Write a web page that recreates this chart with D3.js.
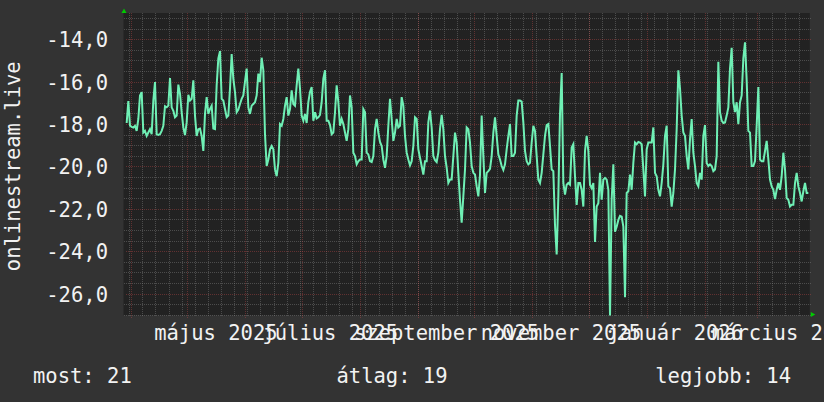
<!DOCTYPE html>
<html><head><meta charset="utf-8">
<script src="https://cdn.jsdelivr.net/npm/d3@7/dist/d3.min.js"></script>
<style>
html,body{margin:0;padding:0;background:#333333;}
svg{display:block;}
text{font-family:"DejaVu Sans Mono",monospace;font-size:20.5px;fill:#f2f2f2;}
</style>
</head><body>
<svg id="chart" width="824" height="402"></svg>
<script>
const seriesName = "onlinestream.live";
const timeDomain = ["2025-03-28T00:00", "2026-03-29T00:00"];
const firstSample = "2025-03-29T16:30";
const lastSample = "2026-03-28T06:00";
const yDomain = [-27.03, -12.76];
const yMajorTicks = [-26, -24, -22, -20, -18, -16, -14];
const yTickLabels = ["-26,0", "-24,0", "-22,0", "-20,0", "-18,0", "-16,0", "-14,0"];
const monthLabelDates = ["2025-05-01", "2025-07-01", "2025-09-01", "2025-11-01", "2026-01-01", "2026-03-01"];
const monthLabels = ["május 2025", "július 2025", "szeptember 2025", "november 2025", "január 2026", "március 2026"];
const legendLabels = ["most:", "átlag:", "legjobb:"];
const legendValues = [21, 19, 14];
const values = [
-17.95,-16.92,-18.08,-18.13,-18.16,-18.08,-18.32,-17.76,-16.65,-16.49,
-18.40,-18.32,-18.56,-18.40,-18.24,-18.48,-16.89,-16.02,-18.48,-18.51,
-18.48,-18.32,-18.08,-17.16,-17.21,-17.13,-15.83,-17.21,-17.37,-17.68,
-17.60,-16.14,-16.57,-17.44,-18.16,-18.52,-17.92,-16.62,-16.89,-16.81,
-15.94,-17.60,-18.56,-18.24,-18.21,-18.56,-19.27,-17.52,-16.73,-17.52,
-17.29,-17.13,-18.21,-18.24,-16.17,-14.90,-14.56,-16.81,-16.89,-17.29,
-17.68,-17.60,-16.33,-14.70,-15.86,
-16.49,-17.44,-17.32,-17.05,-16.81,-16.65,-16.00,-15.38,-17.21,-17.52,
-17.13,-17.05,-16.97,-16.65,-15.62,-16.02,-14.87,-15.46,-18.48,-19.98,
-19.67,-19.19,-19.03,-19.19,-20.14,-20.46,-19.83,-18.00,-18.08,-17.76,
-17.13,-16.73,-17.60,-17.29,-16.41,-17.05,-17.13,-16.17,-15.38,-16.33,
-17.60,-17.84,-17.52,-17.95,-16.97,-16.49,-16.25,-17.84,-17.44,-17.73,
-17.68,-17.57,-16.97,-15.86,-15.46,-17.84,-17.84,-18.05,-18.48,-18.40,
-17.44,-16.17,-16.97,-18.08,-17.76,-18.00,-18.40,-18.79,-18.24,
-16.65,-17.21,-19.35,-19.51,-19.90,-19.75,-19.67,-19.67,-17.29,-17.44,
-19.35,-19.43,-19.75,-19.79,-19.51,-18.24,-17.76,-18.40,-18.84,-19.03,
-19.67,-20.06,-19.51,-18.08,-16.81,-17.76,-18.79,-18.40,-17.76,-18.16,
-18.08,-16.73,-17.13,-18.56,-19.35,-19.67,-19.95,-19.75,-19.03,-17.68,
-17.76,-19.19,-19.59,-19.98,-20.38,-19.75,-19.75,-17.92,-17.37,-18.16,
-19.51,-19.70,-19.79,-19.35,-18.24,-17.56,-18.24,-19.51,-20.06,-20.78,
-20.62,-20.62,-19.51,-18.40,-18.87,-20.30,-21.57,-22.65,-21.41,
-20.14,-18.16,-18.24,-18.87,-19.98,-20.30,-20.38,-20.94,-21.41,-20.40,
-17.60,-19.50,-21.25,-20.30,-20.22,-20.11,-19.51,-18.40,-17.68,-18.56,
-19.43,-19.67,-19.98,-20.17,-19.90,-19.19,-18.56,-18.00,-19.51,-19.51,
-19.35,-17.60,-16.89,-16.89,-16.94,-17.92,-19.27,-19.75,-19.90,-19.83,
-18.87,-18.08,-18.32,-19.51,-20.62,-20.78,-20.30,-19.43,-18.56,-18.05,
-18.00,-19.03,-20.14,-20.22,-22.76,-24.15,-21.41,-17.52,-15.59,-20.78,
-21.33,-20.86,-20.78,-20.86,-19.11,-18.95,-20.46,-21.81,-20.78,
-20.78,-21.10,-21.89,-19.27,-18.56,-19.27,-20.86,-21.02,-20.78,-23.56,
-21.89,-21.73,-20.30,-21.57,-20.62,-20.54,-20.62,-21.10,-27.10,-21.57,
-19.90,-23.08,-22.84,-22.52,-22.33,-22.37,-22.84,-26.17,-21.25,-21.17,
-20.38,-21.10,-19.83,-18.87,-18.95,-18.84,-18.87,-18.95,-20.14,-21.41,
-19.19,-18.87,-18.87,-18.87,-18.16,-20.30,-20.46,-21.10,-21.41,-20.78,
-19.90,-18.56,-18.08,-20.94,-21.02,-21.89,-21.25,-20.14,-18.24,-15.46,
-16.33,-17.60,-18.40,-18.56,-19.51,-20.14,-18.71,-17.76,-19.35,
-19.98,-20.78,-20.94,-20.30,-20.62,-18.56,-18.05,-19.83,-19.98,-19.90,
-19.98,-20.22,-20.14,-19.51,-15.06,-17.44,-17.84,-17.95,-17.92,-17.60,
-17.21,-15.38,-14.40,-16.97,-17.44,-16.97,-18.00,-16.97,-16.65,-14.90,
-14.14,-15.94,-18.32,-18.40,-19.98,-19.98,-19.75,-18.08,-16.25,-19.67,
-19.75,-19.75,-19.27,-18.79,-19.67,-20.62,-20.94,-21.10,-21.54,-21.10,
-20.78,-21.10,-20.46,-19.35,-20.14,-21.49,-21.57,-21.89,-21.81,-21.81,
-20.78,-20.30,-20.94,-21.25,-21.65,-21.17,-20.78,-21.25,-21.25
];

const parseT = d3.timeParse("%Y-%m-%dT%H:%M");
const parseD = d3.timeParse("%Y-%m-%d");
const t0 = parseT(firstSample), t1 = parseT(lastSample);
const n = values.length;
const data = values.map((v, i) => ({ t: new Date(+t0 + i * (t1 - t0) / (n - 1)), v }));

const svg = d3.select("#chart");
const W = 824, H = 402;
const L = 123.5, R = 809.75, T = 13, B = 315.5;

const x = d3.scaleTime().domain(timeDomain.map(parseT)).range([L, R]);
const y = d3.scaleLinear().domain(yDomain).range([B, T]);

svg.append("rect").attr("width", W).attr("height", H).attr("fill", "#333333");
svg.append("rect").attr("x", L).attr("y", T).attr("width", R - L).attr("height", B - T).attr("fill", "#222222");

const minorCol = "rgba(128,128,128,0.45)";
const majorCol = "rgba(230,80,80,0.32)";

// minor horizontal grid (every 0.5)
const yMinor = d3.range(Math.ceil(yDomain[0] * 2) / 2, yDomain[1], 0.5).filter(v => !yMajorTicks.includes(v));
const gMinorY = svg.append("g").attr("transform", `translate(${L},0)`)
  .call(d3.axisLeft(y).tickValues(yMinor).tickSize(-(R - L) - 1).tickFormat(""));
gMinorY.select(".domain").remove();
gMinorY.selectAll("line").attr("stroke", minorCol).attr("stroke-dasharray", "1,1").attr("shape-rendering", "crispEdges");

// minor vertical grid (weekly)
const mondays = d3.timeMonday.range(x.domain()[0], x.domain()[1]);
const gMinorX = svg.append("g").attr("transform", `translate(0,${B})`)
  .call(d3.axisBottom(x).tickValues(mondays).tickSize(-(B - T)).tickFormat(""));
gMinorX.select(".domain").remove();
gMinorX.selectAll("line").attr("stroke", minorCol).attr("stroke-dasharray", "1,1").attr("shape-rendering", "crispEdges");

// major horizontal grid + labels
const gY = svg.append("g").attr("transform", `translate(${L},0)`)
  .call(d3.axisLeft(y).tickValues(yMajorTicks).tickSizeInner(-(R - L) - 1).tickSizeOuter(0).tickPadding(15.5)
    .tickFormat((d, i) => yTickLabels[i]));
gY.select(".domain").remove();
gY.selectAll("line").attr("stroke", majorCol).attr("stroke-dasharray", "1,1").attr("x1", 2).attr("shape-rendering", "crispEdges");
gY.selectAll("text").attr("fill", "#f2f2f2").attr("font-size", "20.5px").attr("font-family", "DejaVu Sans Mono").attr("dy", "0.36em").attr("x", -15.5);

// major vertical grid (monthly)
const months = d3.timeMonth.range(d3.timeMonth.ceil(x.domain()[0]), x.domain()[1]);
const gMajX = svg.append("g").attr("transform", `translate(0,${B})`)
  .call(d3.axisBottom(x).tickValues(months).tickSize(-(B - T)).tickFormat(""));
gMajX.select(".domain").remove();
gMajX.selectAll("line").attr("stroke", majorCol).attr("stroke-dasharray", "1,1").attr("y1", 2).attr("shape-rendering", "crispEdges");

// month labels centred on the middle of each labelled month
const labelTimes = monthLabelDates.map(s => d3.timeDay.offset(parseD(s), 15));
const gX = svg.append("g").attr("transform", `translate(0,${B})`)
  .call(d3.axisBottom(x).tickValues(labelTimes).tickSize(0).tickFormat((d, i) => monthLabels[i]));
gX.select(".domain").remove();
gX.selectAll("text").attr("fill", "#f2f2f2").attr("font-size", "20.5px").attr("font-family", "DejaVu Sans Mono").attr("dy", 0).attr("y", 24.5);

// data line
svg.append("clipPath").attr("id", "plotclip").append("rect")
  .attr("x", L).attr("y", T).attr("width", R - L).attr("height", B - T);
const line = d3.line().x(d => x(d.t)).y(d => y(d.v));
svg.append("path").datum(data).attr("d", line)
  .attr("clip-path", "url(#plotclip)")
  .attr("fill", "none").attr("stroke", "#6ff0b5").attr("stroke-width", 2).attr("stroke-linejoin", "miter");

// axis arrows
const arrowCol = "#00cc00";
svg.append("path").attr("fill", arrowCol)
  .attr("d", `M${L - 2},${T} L${L + 3},${T} L${L + 0.5},${T - 4.5} Z`);
svg.append("path").attr("fill", arrowCol)
  .attr("d", `M${R + 1},${B - 3.5} L${R + 1},${B + 1.5} L${R + 5.5},${B - 1} Z`);

// vertical title
svg.append("text").attr("transform", `translate(19.5,${(T + B) / 2 + 2}) rotate(-90)`)
  .attr("text-anchor", "middle").text(seriesName);

// legend
const legendTexts = legendLabels.map((l, i) => `${l} ${legendValues[i]}`);
svg.append("text").attr("x", 33).attr("y", 383).attr("text-anchor", "start").text(legendTexts[0]);
svg.append("text").attr("x", 392).attr("y", 383).attr("text-anchor", "middle").text(legendTexts[1]);
svg.append("text").attr("x", 791).attr("y", 383).attr("text-anchor", "end").text(legendTexts[2]);
</script>
</body></html>
